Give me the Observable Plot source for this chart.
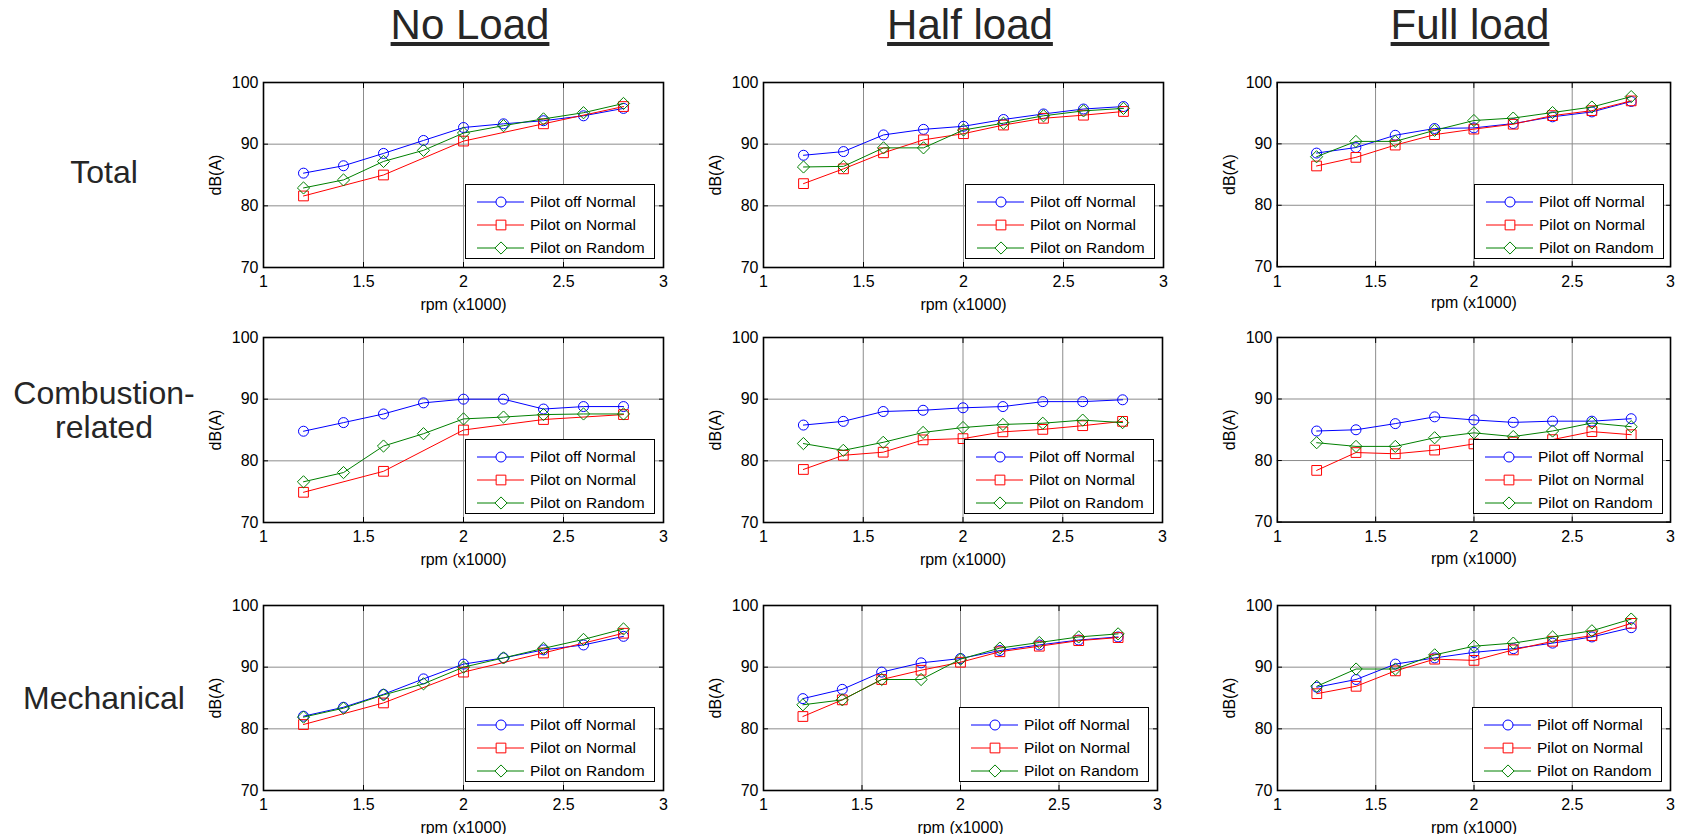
<!DOCTYPE html>
<html>
<head>
<meta charset="utf-8">
<script src="https://cdn.jsdelivr.net/npm/d3@7"></script>
<script src="https://cdn.jsdelivr.net/npm/@observablehq/plot@0.6"></script>
<style>
  html, body { margin: 0; padding: 0; background: #fff; }
  #page { position: relative; width: 1684px; height: 834px; overflow: hidden; background: #fff; font-family: "Liberation Sans", Arial, sans-serif; }
  .title { position: absolute; width: 300px; text-align: center; font-family: "Liberation Sans", Arial, sans-serif; font-size: 42px; line-height: 42px; color: #262626; text-decoration: underline; text-decoration-thickness: 4px; text-underline-offset: 3px; white-space: nowrap; }
  .rowlab { position: absolute; width: 210px; text-align: center; font-size: 32px; line-height: 34px; color: #262626; white-space: nowrap; }
  .panel { position: absolute; }
  .legend { position: absolute; border: 1.5px solid #000; background: #fff; box-sizing: border-box; font-size: 15.5px; color: #000; }
  .legend .item { position: absolute; left: 0; height: 20px; width: 100%; }
  .legend svg { position: absolute; left: 0; top: 0; }
  .legend span { position: absolute; left: 64px; top: 1px; line-height: 18px; white-space: nowrap; }
</style>
</head>
<body>
<div id="page"></div>
<script>
// ---------------- data ----------------
const rpm = [1.2, 1.4, 1.6, 1.8, 2.0, 2.2, 2.4, 2.6, 2.8];
const rpmSparse = [1.2, 1.6, 2.0, 2.4, 2.8];   // "Pilot on Normal" at no load
const xTicks = [1, 1.5, 2, 2.5, 3];
const yTicks = [70, 80, 90, 100];
const loads = ["No Load", "Half load", "Full load"];
const components = ["Total", "Combustion-\nrelated", "Mechanical"];
const seriesNames = ["Pilot off Normal", "Pilot on Normal", "Pilot on Random"];
const seriesColors = ["#0000ff", "#ff0000", "#008000"];
const seriesSymbols = ["circle", "square", "diamond2"];
const xLabel = "rpm (x1000)";
const yLabel = "dB(A)";

// Total
const totalNoOff   = [85.3, 86.5, 88.5, 90.6, 92.7, 93.3, 93.8, 94.6, 95.8];
const totalNoOnN   = [81.6, 85.0, 90.5, 93.3, 96.1];
const totalNoOnR   = [82.9, 84.2, 87.2, 89.0, 91.8, 93.0, 94.1, 95.1, 96.6];
const totalHalfOff = [88.2, 88.8, 91.5, 92.4, 92.9, 94.0, 94.9, 95.7, 96.1];
const totalHalfOnN = [83.6, 86.0, 88.6, 90.7, 91.7, 93.1, 94.2, 94.7, 95.3];
const totalHalfOnR = [86.3, 86.4, 89.4, 89.4, 92.3, 93.4, 94.6, 95.4, 95.8];
const totalFullOff = [88.5, 89.4, 91.4, 92.5, 92.6, 93.3, 94.4, 95.2, 96.9];
const totalFullOnN = [86.4, 87.8, 89.8, 91.5, 92.4, 93.2, 94.6, 95.4, 97.0];
const totalFullOnR = [87.9, 90.4, 90.4, 92.2, 93.8, 94.2, 95.1, 96.0, 97.7];
// Combustion-related
const combNoOff    = [84.8, 86.2, 87.6, 89.4, 90.0, 90.0, 88.4, 88.8, 88.8];
const combNoOnN    = [74.9, 78.3, 85.0, 86.7, 87.5];
const combNoOnR    = [76.6, 78.1, 82.4, 84.4, 86.8, 87.1, 87.5, 87.6, 87.6];
const combHalfOff  = [85.8, 86.4, 88.0, 88.2, 88.6, 88.8, 89.6, 89.6, 89.9];
const combHalfOnN  = [78.6, 80.9, 81.4, 83.4, 83.6, 84.7, 85.1, 85.7, 86.4];
const combHalfOnR  = [82.8, 81.7, 83.0, 84.6, 85.4, 85.9, 86.1, 86.6, 86.2];
const combFullOff  = [84.8, 85.0, 86.0, 87.1, 86.6, 86.2, 86.4, 86.4, 86.8];
const combFullOnN  = [78.4, 81.3, 81.1, 81.7, 82.7, 83.0, 83.4, 84.7, 84.2];
const combFullOnR  = [82.9, 82.3, 82.3, 83.7, 84.5, 83.9, 84.8, 86.1, 85.5];
// Mechanical
const mechNoOff    = [82.05, 83.5, 85.6, 88.1, 90.5, 91.5, 92.8, 93.6, 95.0];
const mechNoOnN    = [80.7, 84.2, 89.2, 92.3, 95.5];
const mechNoOnR    = [81.9, 83.35, 85.5, 87.3, 90.0, 91.5, 93.05, 94.5, 96.2];
const mechHalfOff  = [84.9, 86.4, 89.2, 90.7, 91.4, 92.7, 93.6, 94.4, 94.9];
const mechHalfOnN  = [82.0, 84.7, 88.0, 89.5, 90.8, 92.5, 93.4, 94.3, 94.8];
const mechHalfOnR  = [83.9, 84.7, 88.0, 88.0, 91.3, 93.1, 94.0, 94.9, 95.4];
const mechFullOff  = [86.75, 88.0, 90.5, 91.5, 92.4, 93.0, 93.9, 94.9, 96.4];
const mechFullOnN  = [85.7, 86.9, 89.4, 91.3, 91.1, 92.8, 94.2, 95.1, 97.1];
const mechFullOnR  = [86.9, 89.7, 89.7, 92.0, 93.4, 93.9, 94.9, 95.9, 97.8];

// panels[row][col] = list of [xs, ys] per series
const panels = [
  [[[rpm, totalNoOff], [rpmSparse, totalNoOnN], [rpm, totalNoOnR]],
   [[rpm, totalHalfOff], [rpm, totalHalfOnN], [rpm, totalHalfOnR]],
   [[rpm, totalFullOff], [rpm, totalFullOnN], [rpm, totalFullOnR]]],
  [[[rpm, combNoOff], [rpmSparse, combNoOnN], [rpm, combNoOnR]],
   [[rpm, combHalfOff], [rpm, combHalfOnN], [rpm, combHalfOnR]],
   [[rpm, combFullOff], [rpm, combFullOnN], [rpm, combFullOnR]]],
  [[[rpm, mechNoOff], [rpmSparse, mechNoOnN], [rpm, mechNoOnR]],
   [[rpm, mechHalfOff], [rpm, mechHalfOnN], [rpm, mechHalfOnR]],
   [[rpm, mechFullOff], [rpm, mechFullOnN], [rpm, mechFullOnR]]]
];

// ---------------- layout ----------------
const frameLeft = [263, 763, 1277];
const frameTop = [82, 337, 605];
const frameW = [[400, 400, 395], [400, 399, 394], [400, 394, 393]];
const frameH = 185;
const mL = 70, mR = 14, mT = 10, mB = 52;
const font = '"Liberation Sans", Arial, sans-serif';

const page = document.getElementById("page");

// column titles (baseline at y=40)
const titleCenters = [470, 970, 1470];
loads.forEach((t, i) => {
  const d = document.createElement("div");
  d.className = "title";
  d.textContent = t;
  d.style.left = (titleCenters[i] - 150) + "px";
  d.style.top = (40 - 0.8465 * 42) + "px";
  page.appendChild(d);
});

// row labels (first baseline)
const rowBaselines = [183, 404, 709];
components.forEach((t, i) => {
  const d = document.createElement("div");
  d.className = "rowlab";
  d.innerHTML = t.split("\n").join("<br>");
  d.style.left = (104 - 105) + "px";
  // line-height 34, font 32: baseline offset = (34 - 1.117*32)/2 + 0.905*32
  d.style.top = (rowBaselines[i] - ((34 - 1.117 * 32) / 2 + 0.905 * 32)) + "px";
  page.appendChild(d);
});

function glyph(i) {
  const area = i === 0 ? Math.PI * 25 : Math.PI * 30;
  const sym = [d3.symbolCircle, d3.symbolSquare, d3.symbolDiamond2][i];
  const p = d3.symbol(sym, area)();
  return `<svg width="62" height="20"><line x1="11" x2="58" y1="10" y2="10" stroke="${seriesColors[i]}" stroke-width="1"/>` +
         `<path d="${p}" transform="translate(35,10)" fill="#fff" stroke="${seriesColors[i]}" stroke-width="1"/></svg>`;
}

for (let r = 0; r < 3; r++) {
  for (let c = 0; c < 3; c++) {
    const fw = frameW[r][c];
    const series = panels[r][c];
    const marks = [
      Plot.gridX(xTicks.slice(1, -1), {stroke: "#8c8c8c", strokeOpacity: 1, strokeWidth: 1}),
      Plot.gridY(yTicks.slice(1, -1), {stroke: "#8c8c8c", strokeOpacity: 1, strokeWidth: 1}),
      Plot.axisX(xTicks, {anchor: "bottom", tickSize: -5, tickPadding: 13.6, tickFormat: d => String(d),
        label: xLabel, labelAnchor: "center", labelOffset: 42, labelArrow: "none", fontSize: 16}),
      Plot.axisX(xTicks, {anchor: "top", tickSize: -5, tickFormat: () => "", label: null}),
      Plot.axisY(yTicks, {anchor: "left", tickSize: -5, tickPadding: 10, tickFormat: d => String(d),
        label: yLabel, labelAnchor: "center", labelOffset: 54, labelArrow: "none", fontSize: 16}),
      Plot.axisY(yTicks, {anchor: "right", tickSize: -5, tickFormat: () => "", label: null})
    ];
    series.forEach(([xs, ys], i) => {
      const data = xs.map((x, k) => ({x, y: ys[k]}));
      marks.push(Plot.line(data, {x: "x", y: "y", stroke: seriesColors[i], strokeWidth: 1}));
      marks.push(Plot.dot(data, {x: "x", y: "y", stroke: seriesColors[i], fill: "none", strokeWidth: 1,
        symbol: seriesSymbols[i], r: i === 0 ? 5 : 5.5}));
    });
    marks.push(Plot.frame({stroke: "#000", strokeWidth: 1.6}));
    const chart = Plot.plot({
      width: fw + mL + mR,
      height: frameH + mT + mB,
      marginLeft: mL, marginRight: mR, marginTop: mT, marginBottom: mB,
      x: {domain: [1, 3], label: null},
      y: {domain: [70, 100], label: null},
      style: {fontFamily: font, fontSize: "16px", color: "#000", background: "transparent", overflow: "visible"},
      marks
    });
    const holder = document.createElement("div");
    holder.className = "panel";
    holder.style.left = (frameLeft[c] - mL) + "px";
    holder.style.top = (frameTop[r] - mT) + "px";
    holder.appendChild(chart);
    page.appendChild(holder);

    // legend
    const lw = 190, lh = 75;
    const lg = document.createElement("div");
    lg.className = "legend";
    lg.style.width = lw + "px";
    lg.style.height = lh + "px";
    lg.style.left = (frameLeft[c] + fw - 8 - lw) + "px";
    lg.style.top = (frameTop[r] + frameH - 8 - lh) + "px";
    seriesNames.forEach((n, i) => {
      const it = document.createElement("div");
      it.className = "item";
      it.style.top = (7 + 23 * i) + "px";
      it.innerHTML = glyph(i) + `<span>${n}</span>`;
      lg.appendChild(it);
    });
    page.appendChild(lg);
  }
}
</script>
</body>
</html>
